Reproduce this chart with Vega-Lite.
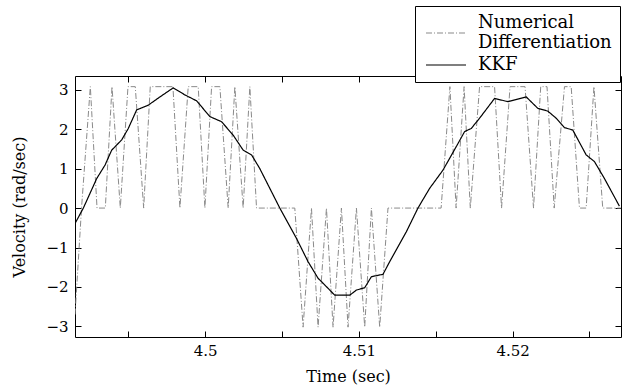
{
  "$schema": "https://vega.github.io/schema/vega-lite/v6.json",
  "width": 546,
  "height": 261,
  "autosize": {"type": "none"},
  "padding": {"left": 75, "top": 76, "right": 1, "bottom": 55},
  "background": "white",
  "config": {
    "view": {"stroke": "black", "strokeWidth": 1},
    "font": "DejaVu Serif",
    "axis": {"grid": false, "domain": false, "tickColor": "black", "labelColor": "black", "titleColor": "black", "labelFont": "DejaVu Serif", "titleFont": "DejaVu Serif", "labelFontSize": 15, "titleFontSize": 16, "titleFontWeight": "normal", "tickSize": -6}
  },
  "datasets": {
    "nd": [
      {"t": 4.491533, "v": -2.7}, {"t": 4.491955, "v": 0}, {"t": 4.492527, "v": 3.08}, {"t": 4.492963, "v": 0},
      {"t": 4.493502, "v": 0}, {"t": 4.493937, "v": 3.08}, {"t": 4.494477, "v": 0}, {"t": 4.494977, "v": 3.08},
      {"t": 4.495451, "v": 3.08}, {"t": 4.495997, "v": 0}, {"t": 4.496426, "v": 3.08}, {"t": 4.497901, "v": 3.08},
      {"t": 4.498356, "v": 0}, {"t": 4.498895, "v": 3.08}, {"t": 4.499545, "v": 3.08}, {"t": 4.499981, "v": 0},
      {"t": 4.500416, "v": 3.08}, {"t": 4.500955, "v": 3.08}, {"t": 4.501495, "v": 0}, {"t": 4.50193, "v": 3.08},
      {"t": 4.502469, "v": 0}, {"t": 4.502905, "v": 3.08}, {"t": 4.50334, "v": 0}, {"t": 4.505829, "v": 0},
      {"t": 4.506368, "v": -3.02}, {"t": 4.506914, "v": 0}, {"t": 4.507343, "v": -3.02}, {"t": 4.507889, "v": 0},
      {"t": 4.508317, "v": -3.02}, {"t": 4.508863, "v": 0}, {"t": 4.509292, "v": -3.02}, {"t": 4.509838, "v": 0},
      {"t": 4.510377, "v": -3.02}, {"t": 4.510813, "v": 0}, {"t": 4.511352, "v": -3.02}, {"t": 4.511891, "v": 0},
      {"t": 4.515348, "v": 0}, {"t": 4.51592, "v": 3.08}, {"t": 4.516323, "v": 0}, {"t": 4.516843, "v": 3.08},
      {"t": 4.517246, "v": 0}, {"t": 4.51785, "v": 3.08}, {"t": 4.518825, "v": 3.08}, {"t": 4.51928, "v": 0},
      {"t": 4.519832, "v": 3.08}, {"t": 4.520807, "v": 3.08}, {"t": 4.521359, "v": 0}, {"t": 4.521827, "v": 3.08},
      {"t": 4.522236, "v": 3.08}, {"t": 4.522704, "v": 0}, {"t": 4.523373, "v": 3.08}, {"t": 4.523809, "v": 3.08},
      {"t": 4.524348, "v": 0}, {"t": 4.524783, "v": 0}, {"t": 4.52529, "v": 3.08}, {"t": 4.525862, "v": 0},
      {"t": 4.527045, "v": 0}
    ],
    "kkf": [
      {"t": 4.491533, "v": -0.39}, {"t": 4.492073, "v": 0.0}, {"t": 4.492943, "v": 0.75}, {"t": 4.493483, "v": 1.09},
      {"t": 4.493918, "v": 1.47}, {"t": 4.494568, "v": 1.73}, {"t": 4.494997, "v": 2.02}, {"t": 4.495542, "v": 2.49},
      {"t": 4.496296, "v": 2.61}, {"t": 4.497056, "v": 2.82}, {"t": 4.497921, "v": 3.05}, {"t": 4.498681, "v": 2.87},
      {"t": 4.499441, "v": 2.72}, {"t": 4.500305, "v": 2.32}, {"t": 4.501066, "v": 2.19}, {"t": 4.501819, "v": 1.85},
      {"t": 4.502469, "v": 1.47}, {"t": 4.503015, "v": 1.35}, {"t": 4.503554, "v": 1.0}, {"t": 4.504204, "v": 0.5},
      {"t": 4.504854, "v": 0.0}, {"t": 4.505939, "v": -0.77}, {"t": 4.506693, "v": -1.36}, {"t": 4.507343, "v": -1.78},
      {"t": 4.507778, "v": -1.95}, {"t": 4.508428, "v": -2.21}, {"t": 4.509402, "v": -2.21}, {"t": 4.509838, "v": -2.08},
      {"t": 4.510377, "v": -2.02}, {"t": 4.510812, "v": -1.74}, {"t": 4.511566, "v": -1.68}, {"t": 4.512001, "v": -1.36},
      {"t": 4.513087, "v": -0.6}, {"t": 4.51384, "v": 0.0}, {"t": 4.5146, "v": 0.5}, {"t": 4.515465, "v": 0.96},
      {"t": 4.516335, "v": 1.56}, {"t": 4.516875, "v": 1.94}, {"t": 4.51731, "v": 2.02}, {"t": 4.51785, "v": 2.28},
      {"t": 4.518824, "v": 2.78}, {"t": 4.519688, "v": 2.7}, {"t": 4.520884, "v": 2.82}, {"t": 4.521637, "v": 2.53},
      {"t": 4.522287, "v": 2.46}, {"t": 4.522833, "v": 2.28}, {"t": 4.523372, "v": 2.04}, {"t": 4.523912, "v": 1.98},
      {"t": 4.524783, "v": 1.35}, {"t": 4.525322, "v": 1.18}, {"t": 4.525972, "v": 0.75}, {"t": 4.526946, "v": 0.05}
    ]
  },
  "layer": [
    {
      "data": {"name": "nd"},
      "mark": {"type": "line", "clip": true, "strokeWidth": 1},
      "encoding": {
        "x": {"field": "t", "type": "quantitative", "scale": {"domain": [4.49153, 4.52705], "nice": false, "zero": false},
          "axis": {"orient": "bottom", "title": "Time (sec)", "values": [4.495, 4.5, 4.505, 4.51, 4.515, 4.52, 4.525],
            "labelExpr": "abs(datum.value*100 - round(datum.value*100)) < 0.001 ? format(datum.value, '.2~f') : ''",
            "labelPadding": 12, "titlePadding": 10, "labelFlush": false}},
        "y": {"field": "v", "type": "quantitative", "scale": {"domain": [-3.27, 3.35], "nice": false, "zero": false},
          "axis": {"orient": "left", "title": "Velocity (rad/sec)", "values": [-3, -2, -1, 0, 1, 2, 3], "labelPadding": 13, "titlePadding": 18, "labelFlush": false}},
        "color": {"datum": "Numerical Differentiation", "type": "nominal",
          "scale": {"domain": ["Numerical Differentiation", "KKF"], "range": ["#8a8a8a", "black"]},
          "legend": {"orient": "none", "legendX": 340, "legendY": -70, "title": null, "symbolType": "M-2.5,0H2.5", "symbolSize": 256,
            "symbolStrokeWidth": 1.2, "symbolOffset": 14, "labelFont": "DejaVu Serif", "labelFontSize": 18, "labelColor": "black",
            "labelExpr": "datum.label == 'KKF' ? 'KKF' : ['Numerical', 'Differentiation']",
            "labelOffset": 23, "fillColor": "white", "strokeColor": "black", "padding": 8, "rowPadding": 4, "labelLimit": 300,
            "encode": {
              "labels": {"update": {"lineHeight": {"value": 20}}},
              "symbols": {"update": {"shape": [{"test": "datum.label == 'KKF'", "value": "M-2.5,0H2.5"}, {"value": "M-2.5,1.25H2.5"}]}}
            }}},
        "strokeDash": {"datum": "Numerical Differentiation", "type": "nominal",
          "scale": {"domain": ["Numerical Differentiation", "KKF"], "range": [[6, 2, 1, 2], [1, 0]]}, "legend": null}
      }
    },
    {
      "data": {"name": "kkf"},
      "mark": {"type": "line", "clip": true, "strokeWidth": 1.2},
      "encoding": {
        "x": {"field": "t", "type": "quantitative",
          "axis": {"orient": "top", "title": null, "labels": false, "values": [4.495, 4.5, 4.505, 4.51, 4.515, 4.52, 4.525]}},
        "y": {"field": "v", "type": "quantitative",
          "axis": {"orient": "right", "title": null, "labels": false, "values": [-3, -2, -1, 0, 1, 2, 3]}},
        "color": {"datum": "KKF", "type": "nominal"},
        "strokeDash": {"datum": "KKF", "type": "nominal"}
      }
    }
  ],
  "resolve": {"axis": {"x": "independent", "y": "independent"}}
}
